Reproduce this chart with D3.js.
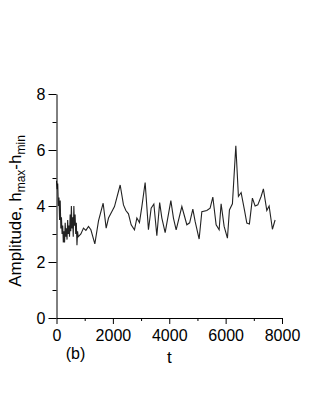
<!DOCTYPE html>
<html>
<head>
<meta charset="utf-8">
<script src="https://cdn.jsdelivr.net/npm/d3@7"></script>
<style>
  body { margin: 0; background: #fff; }
  svg { font-family: "Liberation Sans", Arial, sans-serif; }
</style>
</head>
<body>
<div id="root"></div>
<script>
// time (t) and amplitude, dense start then sparser samples
const tEarly = [0, 22, 44, 66, 88, 110, 132, 154, 176, 198, 220, 242, 264, 286, 308, 330, 352, 374,
    396, 418, 440, 462, 484, 506, 528, 550, 572, 594, 616, 638, 660, 682, 704, 726, 748, 770];
const ampEarly = [4.9, 4.6, 4.8, 4.0, 4.3, 3.5, 4.2, 3.2, 3.6, 3.0, 3.3, 2.7, 3.1, 2.7, 3.4, 2.9,
    3.2, 2.8, 3.5, 3.0, 3.3, 2.9, 3.7, 3.1, 4.0, 3.2, 3.6, 2.9, 4.0, 3.3, 3.7, 3.0, 3.4, 2.6, 3.1, 2.9];
const tLate = [865, 957, 1043, 1135, 1220, 1360, 1490, 1655, 1762, 1845, 1965, 2057, 2259, 2376,
    2461, 2553, 2649, 2766, 2851, 2943, 3028, 3145, 3262, 3358, 3454, 3560, 3660, 3738, 3855, 4057,
    4149, 4245, 4447, 4624, 4723, 4837, 4918, 5060, 5156, 5333, 5450, 5546, 5663, 5770, 5840, 5947,
    6064, 6135, 6241, 6362, 6454, 6550, 6667, 6752, 6844, 6950, 7046, 7142, 7259, 7340, 7461, 7543,
    7660, 7755];
const ampLate = [3.00, 3.21, 3.13, 3.27, 3.15, 2.65, 3.47, 4.10, 3.21, 3.57, 3.80, 3.98, 4.75, 4.04,
    3.84, 3.72, 3.33, 3.15, 3.57, 3.41, 3.98, 4.84, 3.15, 3.92, 4.07, 2.94, 4.12, 3.57, 3.05, 4.19,
    3.57, 3.15, 3.98, 3.33, 3.40, 3.89, 3.45, 2.82, 3.80, 3.84, 3.92, 4.32, 3.33, 3.15, 4.08, 3.27,
    2.85, 3.86, 4.08, 6.15, 4.34, 4.48, 3.86, 3.39, 3.36, 4.28, 4.00, 4.04, 4.34, 4.61, 3.84, 4.00,
    3.17, 3.50];

const xTicks = [0, 2000, 4000, 6000, 8000];
const xMinor = [1000, 3000, 5000, 7000];
const yTicks = [0, 2, 4, 6, 8];
const yMinor = [1, 3, 5, 7];

const W = 319, H = 412;
const margin = { left: 56.5, top: 94, right: 37, bottom: 94 };

const svg = d3.select("#root").append("svg")
    .attr("width", W)
    .attr("height", H);

const x = d3.scaleLinear().domain([0, 8000]).range([margin.left, W - margin.right]);
const y = d3.scaleLinear().domain([0, 8]).range([H - margin.bottom, margin.top]);

const points = tEarly.map((t, i) => [t, ampEarly[i]])
    .concat(tLate.map((t, i) => [t, ampLate[i]]));

const line = d3.line()
    .x(d => x(d[0]))
    .y(d => y(d[1]));

svg.append("path")
    .datum(points)
    .attr("fill", "none")
    .attr("stroke", "#222")
    .attr("stroke-width", 1.1)
    .attr("d", line);

// axes
svg.append("g")
    .attr("transform", `translate(0,${y(0)})`)
    .call(d3.axisBottom(x).tickValues(xTicks).tickFormat(d3.format("d"))
        .tickSize(6).tickSizeOuter(0).tickPadding(6));
svg.append("g")
    .attr("transform", `translate(0,${y(0)})`)
    .call(d3.axisBottom(x).tickValues(xMinor).tickSize(3).tickSizeOuter(0).tickFormat(""))
    .select(".domain").remove();

svg.append("g")
    .attr("transform", `translate(${x(0)},0)`)
    .call(d3.axisLeft(y).tickValues(yTicks).tickSize(8).tickSizeOuter(0).tickPadding(3));
svg.append("g")
    .attr("transform", `translate(${x(0)},0)`)
    .call(d3.axisLeft(y).tickValues(yMinor).tickSize(4).tickSizeOuter(0).tickFormat(""))
    .select(".domain").remove();

svg.selectAll(".tick text")
    .attr("font-family", "'Liberation Sans', Arial, sans-serif")
    .attr("font-size", 16)
    .attr("fill", "#000");
svg.selectAll(".domain, .tick line").attr("stroke", "#000");

// labels
svg.append("text")
    .attr("x", x(4000))
    .attr("y", 363)
    .attr("text-anchor", "middle")
    .attr("font-size", 17)
    .text("t");

svg.append("text")
    .attr("x", 75.5)
    .attr("y", 359)
    .attr("text-anchor", "middle")
    .attr("font-size", 16)
    .text("(b)");

const yTitle = svg.append("text")
    .attr("transform", "translate(21,211) rotate(-90)")
    .attr("text-anchor", "middle")
    .attr("font-size", 17);
yTitle.append("tspan").text("Amplitude, h");
yTitle.append("tspan").attr("font-size", 12).attr("dy", 4).text("max");
yTitle.append("tspan").attr("dy", -4).text("-h");
yTitle.append("tspan").attr("font-size", 12).attr("dy", 4).text("min");
</script>
</body>
</html>
